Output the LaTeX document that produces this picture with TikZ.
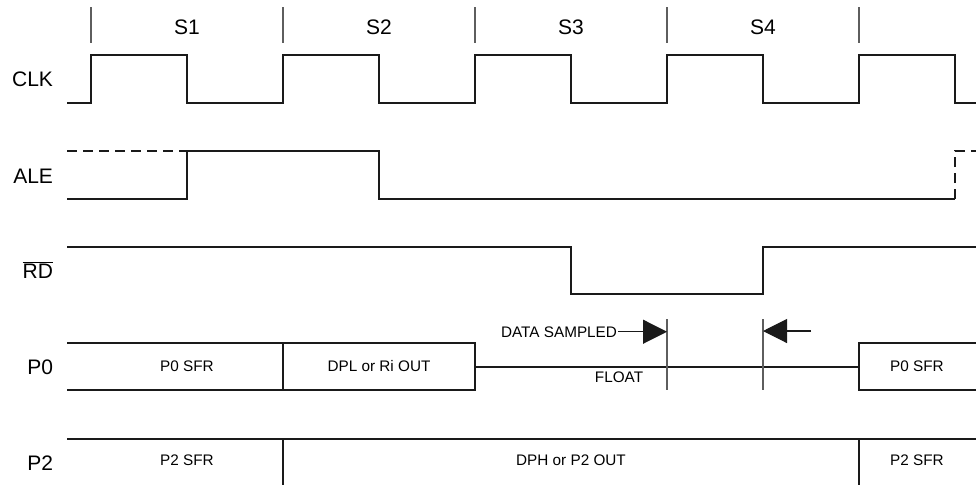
\documentclass[tikz,border=0pt]{standalone}
\usepackage{fontspec}
\setmainfont{Liberation Sans}
\usetikzlibrary{arrows.meta}
\definecolor{cgrey}{HTML}{5E5E5E}
\definecolor{cwave}{HTML}{1A1A1A}
\tikzset{
  every picture/.style={line width=2pt},
  sig/.style={draw=cwave, line width=2.2pt, line join=miter},
  tickline/.style={draw=cgrey, line width=1.5pt},
  signame/.style={anchor=base east, inner sep=0pt, font=\fontsize{21}{25}\selectfont},
  statelab/.style={anchor=base, inner sep=0pt, font=\fontsize{21}{25}\selectfont},
  field/.style={anchor=base, inner sep=0pt, font=\fontsize{15.3}{18}\selectfont},
}

\begin{document}
\begin{tikzpicture}[x=1pt, y=-1pt,
  probe/.style={-{Triangle[length=24pt, width=24pt]}, draw=cwave, line width=1.1pt},
  dashwave/.style={sig, dash pattern=on 10pt off 6pt}]
  \useasboundingbox (0,0) rectangle (976,485);
  \foreach \x in {91,283,475,667,859}
    \draw[tickline] (\x,7) -- (\x,43);
  \foreach \i in {1,...,4}
    \node[statelab] (s\i) at ({187+192*(\i-1)},34) {S\i};
  \node[signame] (clk) at (54,86) {CLK};
  \node[signame] (ale) at (54,183) {ALE};
  \node[signame] (rd) at (54,278) {$\overline{\mbox{RD}}$};
  \node[signame] (p0) at (54,374) {P0};
  \node[signame] (p2) at (54,470) {P2};
  \draw[sig] (67,103) -| (91,55) -| (187,103) -| (283,55) -| (379,103) -| (475,55)
    -| (571,103) -| (667,55) -| (763,103) -| (859,55) -| (955,103) -- (976,103);
  \draw[dashwave] (67,151) -- (187,151);
  \draw[sig] (67,199) -| (187,151) -| (379,199) -- (955,199);
  \draw[dashwave] (955,199) |- (976,151);
  \draw[sig] (67,247) -| (571,294) -| (763,247) -- (976,247);
  \draw[sig] (67,343) -- (475,343) -- (475,390) -- (67,390);
  \draw[sig] (283,343) -- (283,390);
  \draw[sig] (475,367) -- (859,367);
  \draw[sig] (976,343) -- (859,343) -- (859,390) -- (976,390);
  \draw[sig] (67,439) -- (976,439);
  \draw[sig] (283,439) -- (283,485);
  \draw[sig] (859,439) -- (859,485);
  \node[field] (f0a) at (187,371) {P0 SFR};
  \node[field] (f0b) at (379,371) {DPL or Ri OUT};
  \node[field] (f0c) at (917,371) {P0 SFR};
  \node[field] (float) at (619,382) {FLOAT};
  \node[field] (f2a) at (187,465) {P2 SFR};
  \node[field] (f2b) at (571,465) {DPH or P2 OUT};
  \node[field] (f2c) at (917,465) {P2 SFR};
  \coordinate (t1) at (667,331);
  \coordinate (t2) at (763,331);
  \coordinate (t2s) at (811,331);
  \draw[tickline] (667,319) -- (667,390);
  \draw[tickline] (763,319) -- (763,390);
  \node[field, anchor=base east] (ds) at (618,337) {DATA SAMPLED};
  \draw[probe] (ds.east) -- (t1 |- ds.east);
  \draw[probe] (t2s) -- (t2);
\end{tikzpicture}
\end{document}
